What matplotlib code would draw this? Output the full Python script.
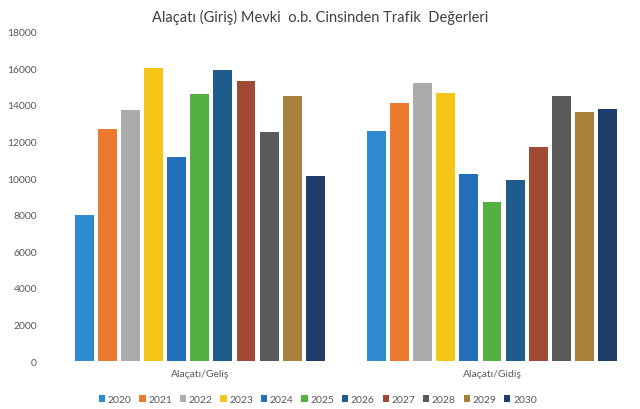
import matplotlib
matplotlib.use("Agg")
import matplotlib.pyplot as plt
import numpy as np

plt.rcParams['font.family'] = ['Lato', 'DejaVu Sans']

title = "Alaçatı (Giriş) Mevki  o.b. Cinsinden Trafik  Değerleri"
categories = ["Alaçatı/Geliş", "Alaçatı/Gidiş"]
years = ["2020", "2021", "2022", "2023", "2024", "2025",
         "2026", "2027", "2028", "2029", "2030"]
gelis = [8000, 12700, 13700, 16000, 11150, 14600, 15900, 15300, 12500, 14500, 10100]
gidis = [12600, 14100, 15200, 14650, 10200, 8700, 9900, 11700, 14500, 13600, 13800]
colors = ["#2E8BCF", "#EC7A30", "#ABABAB", "#F5C518", "#2270BA", "#55B043",
          "#1F5C8C", "#A04A35", "#5A5A5A", "#A8803A", "#1F3D6B"]

fig = plt.figure(figsize=(6.4, 4.1), dpi=100)
ax = fig.add_axes([0.084, 0.117, 0.913, 0.803])

n = len(years)
pitch = 0.079
width = 0.065
x = np.arange(len(categories))
for i, (yr, c) in enumerate(zip(years, colors)):
    off = (i - (n - 1) / 2) * pitch
    ax.bar(x + off, [gelis[i], gidis[i]], width=width, color=c, label=yr)

ax.set_xlim(-0.5, 1.5)
ax.set_ylim(0, 18000)
ax.set_yticks(np.arange(0, 18001, 2000))
ax.set_xticks(x)
ax.set_xticklabels(categories)
for s in ax.spines.values():
    s.set_visible(False)
ax.tick_params(axis='both', length=0, colors="#595959", labelsize=7.5)
ax.tick_params(axis='y', pad=12)
ax.tick_params(axis='x', pad=6)

fig.text(0.5, 0.958, title, ha='center', va='center', fontsize=10.5, color="#404040")

leg = ax.legend(loc='upper center', bbox_to_anchor=(0.452, -0.075), ncol=n,
                frameon=False, fontsize=7.5, handlelength=0.6, handleheight=0.6,
                handletextpad=0.25, columnspacing=0.75, labelcolor="#595959")

fig.savefig("out.png", dpi=100)
